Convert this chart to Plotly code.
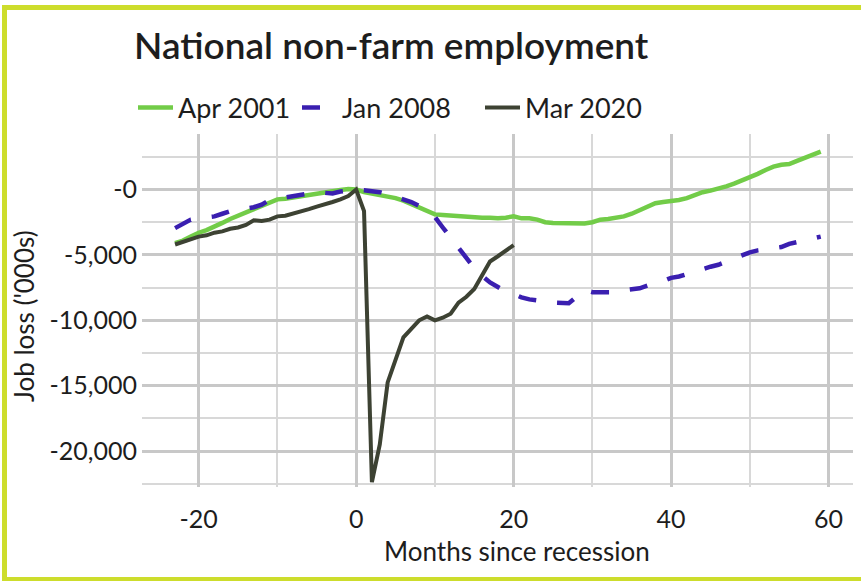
import plotly.graph_objects as go

months_2001 = list(range(-23, 60))
apr_2001 = [-4100, -3900, -3600, -3300, -3100, -2850, -2550, -2250, -2000, -1800,
            -1550, -1300, -1000, -750, -700, -600, -450, -350, -250, -180,
            -100, -30, 50, 0, -200, -300, -380, -500, -650, -850,
            -1100, -1350, -1650, -1900, -1950, -2000, -2050, -2100, -2100, -2150,
            -2150, -2200, -2150, -2050, -2200, -2200, -2300, -2500, -2550, -2550,
            -2550, -2600, -2600, -2500, -2300, -2250, -2150, -2050, -1850, -1600,
            -1350, -1050, -950, -880, -800, -650, -400, -200, -80, 50,
            250, 450, 700, 900, 1200, 1500, 1750, 1900, 1950, 2200,
            2450, 2650, 2900]

months_2008 = list(range(-23, 60))
jan_2008 = [-2950, -2650, -2300, -2200, -2100, -2050, -1850, -1650, -1550, -1450,
            -1350, -1150, -800, -700, -600, -550, -450, -300, -200, -250,
            -300, -150, -50, 0, -50, -100, -200, -350, -550, -750,
            -950, -1250, -1650, -2100, -2900, -3650, -4400, -5200, -6000, -6600,
            -7100, -7450, -7800, -8000, -8250, -8400, -8450, -8550, -8650, -8650,
            -8700, -8200, -7700, -7850, -7850, -7850, -7850, -7700, -7600, -7550,
            -7350, -7250, -7000, -6750, -6650, -6450, -6300, -6100, -5900, -5750,
            -5500, -5300, -5050, -4800, -4650, -4550, -4450, -4400, -4150, -4000,
            -3850, -3700, -3600]

months_2020 = list(range(-23, 21))
mar_2020 = [-4200, -4000, -3800, -3600, -3500, -3300, -3200, -3000, -2900, -2700,
            -2350, -2400, -2300, -2050, -2000, -1850, -1700, -1500, -1300, -1150,
            -950, -750, -500, 0, -1650, -22380, -19500, -14750, -13000, -11300,
            -10650, -10000, -9700, -10000, -9800, -9500, -8650, -8200, -7600, -6500,
            -5500, -5100, -4700, -4250]

x_ticks = [-20, 0, 20, 40, 60]
x_ticktext = ["-20", "0", "20", "40", "60"]
y_ticks = [0, -5000, -10000, -15000, -20000]
y_ticktext = ["-0", "-5,000", "-10,000", "-15,000", "-20,000"]

FONT = "Lato"
TXT = "#1d1d1d"

fig = go.Figure()
fig.add_trace(go.Scatter(x=months_2001, y=apr_2001, mode="lines", name="Apr 2001",
                         line=dict(color="#72cc48", width=4.5), legend="legend"))
fig.add_trace(go.Scatter(x=months_2008, y=jan_2008, mode="lines", name="Jan 2008",
                         line=dict(color="#3a1fb0", width=4.5, dash="18px,21px"), legend="legend2"))
fig.add_trace(go.Scatter(x=months_2020, y=mar_2020, mode="lines", name="Mar 2020",
                         line=dict(color="#3d4233", width=4), legend="legend3"))

W, H = 861, 581
L, R, T, B = 142, 8, 134, 94
pw, ph = W - L - R, H - T - B

def px(xp):
    return (xp - L) / pw

def py(yp):
    return (H - B - yp) / ph

def leg(xpix):
    return dict(orientation="h", xref="container", yref="container",
                x=xpix / W, xanchor="left", y=1 - 108 / H, yanchor="middle",
                font=dict(family=FONT, size=27, color=TXT),
                itemwidth=35, bgcolor="rgba(0,0,0,0)")

fig.update_layout(
    width=W, height=H,
    margin=dict(l=L, r=R, t=T, b=B, autoexpand=False),
    paper_bgcolor="white", plot_bgcolor="white",
    font=dict(family=FONT, color=TXT, size=24),
    title=dict(text="National non-farm employment", xref="container", yref="container",
               x=134 / W, xanchor="left", y=1 - 46 / H, yanchor="middle",
               font=dict(family=FONT, size=37, color=TXT, weight=600)),
    legend=leg(133),
    legend2=leg(297),
    legend3=leg(480),
    showlegend=True,
    shapes=[dict(type="rect", xref="paper", yref="paper",
                 x0=px(4.5), x1=px(880), y0=py(579.5), y1=py(7.5),
                 line=dict(color="#cddd2c", width=5), fillcolor="rgba(0,0,0,0)",
                 layer="above")],
    annotations=[
        dict(text="Months since recession", xref="paper", yref="paper",
             x=px(517), y=py(551), xanchor="center", yanchor="middle",
             showarrow=False, font=dict(size=26, family=FONT, color=TXT)),
        dict(text="Job loss ('000s)", xref="paper", yref="paper",
             x=px(24), y=py(316), xanchor="center", yanchor="middle", textangle=-90,
             showarrow=False, font=dict(size=26, family=FONT, color=TXT)),
    ],
)

fig.update_xaxes(range=[-27.2, 63.1], tickvals=x_ticks, ticktext=x_ticktext, ticks="",
                 showline=False, zeroline=False, showgrid=True, gridcolor="#c8c8c8", gridwidth=2.5,
                 minor=dict(dtick=10, tick0=0, showgrid=True, gridcolor="#d8d8d8", gridwidth=1.5),
                 tickfont=dict(size=25, family=FONT, color=TXT), ticklabelstandoff=15)
fig.update_yaxes(range=[-22750, 4250], tickvals=y_ticks, ticktext=y_ticktext, ticks="",
                 showline=False, zeroline=False, showgrid=True, gridcolor="#c8c8c8", gridwidth=2.5,
                 minor=dict(dtick=2500, tick0=0, showgrid=True, gridcolor="#d8d8d8", gridwidth=1.5),
                 tickfont=dict(size=25, family=FONT, color=TXT), ticklabelstandoff=4)

fig.write_html("out.html")
